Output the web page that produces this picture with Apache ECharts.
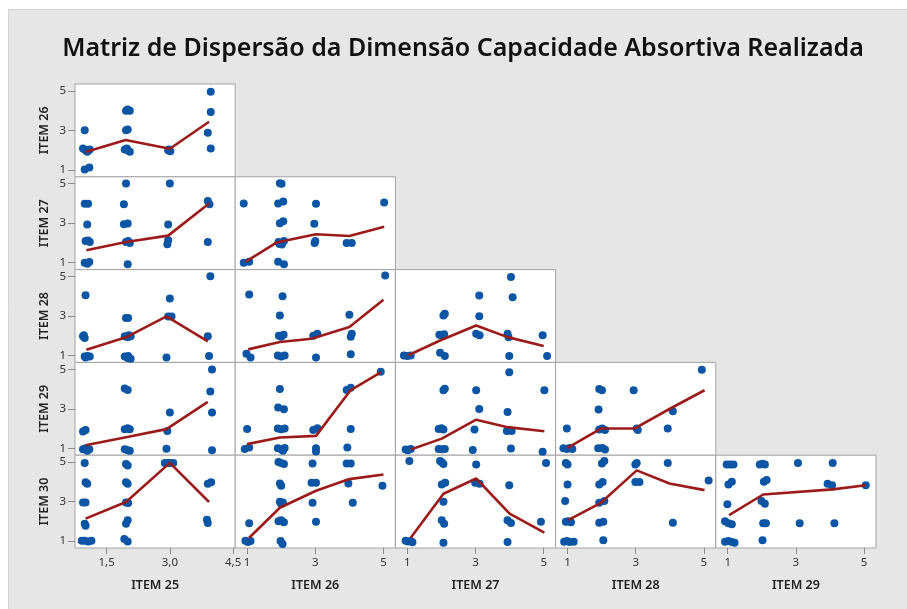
<!DOCTYPE html>
<html>
<head>
<meta charset="utf-8">
<script src="https://cdn.jsdelivr.net/npm/echarts@6/dist/echarts.min.js"></script>
<style>
html,body{margin:0;padding:0;background:#fff;}
#chart{width:907px;height:609px;}
</style>
</head>
<body>
<div id="chart"></div>
<script>
const titleText = 'Matriz de Dispersão da Dimensão Capacidade Absortiva Realizada';
const rowNames = ['ITEM 26', 'ITEM 27', 'ITEM 28', 'ITEM 29', 'ITEM 30'];
const colNames = ['ITEM 25', 'ITEM 26', 'ITEM 27', 'ITEM 28', 'ITEM 29'];
const xTicksItem25 = [1.5, 3.0, 4.5];
const xTicksOther = [1, 3, 5];
const yTicks = [1, 3, 5];

// Row ITEM 26
const pts26_25 = [[0.98,3.01],[0.94,2.08],[1.0,2.0],[1.06,1.97],[1.1,2.03],[1.04,1.92],[0.98,1.02],[1.09,1.12],
  [1.96,4.0],[2.05,4.0],[2.0,4.06],[1.96,3.01],[2.0,3.05],[1.93,2.03],[2.0,2.0],[2.05,1.92],[1.98,2.08],
  [2.96,2.0],[3.01,1.95],[2.98,2.03],[3.97,4.96],[3.97,3.93],[3.9,2.88],[3.97,2.08]];
const fit26_25 = [[1.0,1.9],[1.95,2.51],[3.0,2.07],[3.93,3.44]];

// Row ITEM 27
const pts27_25 = [[0.98,3.99],[1.06,3.99],[1.04,2.93],[1.0,2.1],[1.06,2.13],[1.1,2.05],[0.98,1.0],[1.04,0.95],[1.09,1.04],
  [1.96,5.01],[1.91,3.96],[1.91,2.95],[2.0,2.98],[1.96,2.05],[2.01,2.1],[2.05,2.0],[2.0,0.92],
  [3.0,5.01],[2.96,2.93],[2.96,2.14],[2.94,1.93],[3.9,4.13],[3.94,3.96],[3.9,2.05]];
const fit27_25 = [[1.02,1.63],[1.96,2.05],[2.96,2.37],[3.93,4.0]];
const pts27_26 = [[2.01,5.0],[1.96,5.02],[0.9,4.0],[1.91,4.0],[2.06,4.1],[3.02,3.98],[1.96,3.0],[2.06,3.1],[2.97,2.97],
  [5.02,4.05],[1.92,2.05],[2.0,2.0],[2.08,2.1],[2.02,1.92],[1.95,1.95],[3.0,2.1],[2.98,2.0],[3.92,2.0],[4.07,2.0],
  [0.9,1.0],[1.06,1.05],[1.91,1.05],[2.08,0.92]];
const fit27_26 = [[0.95,1.04],[1.86,2.02],[3.02,2.44],[4.0,2.35],[5.02,2.82]];

// Row ITEM 28
const pts28_25 = [[1.0,4.05],[0.94,1.97],[0.98,1.88],[0.96,2.02],[0.98,0.95],[1.04,0.98],[1.1,0.95],[1.0,0.9],
  [1.96,2.9],[2.01,2.9],[1.93,1.97],[2.0,1.92],[2.07,1.97],[2.03,2.02],[1.93,0.95],[2.0,0.87],[2.07,0.83],[2.01,0.98],
  [3.0,3.88],[2.96,2.98],[3.04,2.98],[2.92,0.9],[3.96,5.01],[3.9,1.97],[3.93,0.98]];
const fit28_25 = [[1.02,1.29],[1.96,1.92],[2.92,2.98],[3.9,1.71]];
const pts28_26 = [[5.05,5.05],[1.06,4.09],[2.04,4.0],[1.96,3.03],[4.0,3.06],[1.93,2.0],[2.0,1.95],[2.07,2.05],
  [2.94,2.0],[3.06,2.1],[4.07,2.1],[4.04,1.95],[0.98,1.09],[1.1,0.9],[1.9,1.0],[2.0,0.95],[2.1,1.0],[3.02,0.9],[4.04,1.06]];
const fit28_26 = [[1.03,1.31],[1.96,1.68],[2.89,1.85],[4.0,2.44],[5.0,3.82]];
const pts28_27 = [[4.04,4.98],[3.11,4.04],[4.09,3.95],[2.06,3.03],[2.1,3.11],[3.11,2.99],[1.94,2.05],[2.02,2.0],[2.08,2.08],
  [3.02,2.1],[3.12,2.02],[3.94,2.1],[3.97,1.93],[4.97,2.02],[0.9,1.0],[1.0,0.98],[1.1,1.0],[1.96,1.14],[2.1,0.97],
  [3.99,0.97],[5.1,0.97]];
const fit28_27 = [[1.03,1.01],[1.96,1.76],[3.02,2.52],[3.94,1.93],[5.0,1.48]];

// Row ITEM 29
const pts29_25 = [[0.94,1.85],[1.0,1.92],[0.94,0.95],[1.0,1.0],[1.09,0.95],[1.04,0.87],
  [1.93,4.03],[2.0,3.95],[1.93,1.96],[2.0,2.02],[2.05,1.96],[1.93,0.95],[2.0,0.9],[2.05,0.87],
  [3.0,2.81],[2.94,1.88],[2.92,0.98],[4.0,4.99],[3.96,3.88],[4.0,2.81],[4.0,0.9]];
const fit29_25 = [[1.0,1.15],[1.96,1.56],[2.92,1.97],[3.9,3.35]];
const pts29_26 = [[4.92,4.88],[3.92,3.95],[4.04,4.07],[1.96,4.0],[1.91,3.06],[2.08,2.98],[1.0,1.98],[1.9,2.0],[2.0,1.96],
  [2.1,2.0],[2.94,1.93],[3.06,2.02],[4.04,1.98],[0.93,0.97],[1.06,1.04],[1.9,1.0],[2.0,0.95],[2.1,1.02],[2.05,0.88],
  [3.02,1.0],[3.02,0.84],[3.94,1.04]];
const fit29_26 = [[1.0,1.21],[1.96,1.55],[3.02,1.63],[4.04,3.95],[4.92,4.85]];
const pts29_27 = [[3.99,4.85],[2.06,3.94],[2.1,4.02],[3.02,3.94],[5.02,3.94],[3.11,2.99],[3.94,2.84],[1.92,1.98],[2.0,2.02],
  [2.06,1.95],[2.97,1.95],[3.92,1.87],[4.06,1.87],[0.95,0.94],[1.02,0.9],[1.1,0.96],[1.92,0.97],[2.02,0.95],[2.1,0.97],
  [2.92,0.91],[4.04,0.99],[4.97,0.82]];
const fit29_27 = [[1.1,0.94],[2.01,1.49],[3.02,2.45],[3.94,2.07],[5.02,1.86]];
const pts29_28 = [[4.94,4.98],[1.93,4.0],[2.01,3.94],[2.94,3.94],[1.91,2.96],[4.09,2.88],[0.98,2.0],[1.93,1.95],[2.02,2.0],
  [2.1,1.93],[3.03,2.0],[3.06,1.92],[3.94,2.0],[0.88,1.0],[0.98,0.96],[1.06,1.02],[1.14,0.97],[1.9,1.0],[2.02,1.02],[2.1,0.94]];
const fit29_28 = [[1.0,1.02],[1.98,2.0],[2.96,2.0],[3.99,2.99],[5.02,3.94]];

// Row ITEM 30
const pts30_25 = [[0.98,4.96],[1.0,3.98],[1.04,3.9],[0.94,2.96],[1.0,2.96],[0.98,1.88],[1.0,1.78],[0.91,1.02],[0.98,1.02],
  [1.06,0.98],[1.14,1.02],[1.96,4.91],[2.0,4.83],[1.96,3.98],[2.0,3.91],[1.96,2.96],[2.01,2.93],[2.0,2.05],[1.96,1.88],
  [1.92,1.1],[2.0,0.98],[2.88,4.96],[2.96,4.96],[3.01,4.96],[3.08,4.96],[3.9,3.9],[3.98,3.98],[3.88,2.08],[3.9,1.92]];
const fit30_25 = [[1.0,2.14],[1.96,2.98],[3.0,4.96],[3.93,2.98]];
const pts30_26 = [[1.92,5.0],[2.0,4.95],[2.08,4.9],[2.92,4.93],[3.92,4.93],[4.04,4.93],[1.96,3.92],[2.0,3.8],[2.89,3.95],
  [3.02,3.95],[3.97,3.92],[4.97,3.8],[1.96,2.99],[2.0,2.88],[2.05,2.95],[2.92,2.94],[4.1,2.94],[1.06,1.9],[1.92,2.0],
  [2.0,2.05],[2.08,1.95],[3.02,1.98],[0.95,1.02],[1.02,0.95],[1.1,1.0],[1.98,1.0],[2.04,0.85]];
const fit30_26 = [[1.06,1.17],[1.96,2.69],[3.02,3.55],[4.0,4.14],[5.0,4.37]];
const pts30_27 = [[1.06,5.05],[1.96,5.05],[2.06,4.91],[2.02,4.98],[3.02,4.88],[5.07,4.96],[2.01,3.87],[2.11,3.95],[2.99,3.95],
  [3.12,3.9],[3.99,3.83],[2.06,2.99],[2.01,2.05],[2.08,1.88],[3.94,2.05],[4.04,1.92],[4.92,1.98],[0.95,1.02],[1.02,0.98],
  [1.1,1.0],[1.15,0.94],[2.06,0.92],[3.94,0.96]];
const fit30_27 = [[1.1,1.17],[2.06,3.4],[3.02,4.17],[4.0,2.39],[5.02,1.43]];
const pts30_28 = [[0.95,4.96],[1.0,4.88],[2.01,4.93],[2.08,5.05],[2.99,4.88],[3.03,4.96],[3.94,4.96],[1.0,3.87],[1.93,3.87],
  [2.03,3.99],[2.99,3.99],[3.11,3.99],[5.14,4.07],[0.93,3.03],[1.93,2.94],[2.08,3.03],[0.95,1.98],[1.02,2.0],[1.1,1.96],
  [1.93,1.93],[2.05,1.98],[4.09,1.93],[0.9,0.97],[0.98,1.0],[1.06,0.95],[1.18,0.97],[2.05,1.04]];
const fit30_28 = [[1.03,2.07],[1.98,2.94],[3.03,4.58],[3.99,3.92],[5.02,3.58]];
const pts30_29 = [[0.97,4.88],[1.07,4.88],[1.17,4.88],[1.94,4.88],[2.02,4.92],[2.09,4.88],[3.06,4.96],[4.08,4.96],
  [1.02,3.87],[1.12,4.0],[2.06,4.0],[2.14,4.09],[3.93,3.9],[4.06,3.83],[5.05,3.83],[0.99,2.86],[1.99,3.03],[2.09,2.89],
  [0.92,2.0],[1.02,1.9],[1.12,1.85],[2.04,1.9],[2.12,1.9],[3.11,1.9],[4.13,1.9],[0.92,0.97],[1.02,1.0],[1.12,0.95],
  [1.2,0.92],[2.02,1.04]];
const fit30_29 = [[1.04,2.32],[2.04,3.36],[4.08,3.62],[5.05,3.83]];

const pointRows = [
  [pts26_25],
  [pts27_25, pts27_26],
  [pts28_25, pts28_26, pts28_27],
  [pts29_25, pts29_26, pts29_27, pts29_28],
  [pts30_25, pts30_26, pts30_27, pts30_28, pts30_29]
];
const fitRows = [
  [fit26_25],
  [fit27_25, fit27_26],
  [fit28_25, fit28_26, fit28_27],
  [fit29_25, fit29_26, fit29_27, fit29_28],
  [fit30_25, fit30_26, fit30_27, fit30_28, fit30_29]
];

const FONT = '"Noto Sans", "Open Sans", sans-serif';
const colLeft = c => 75 + c * 160.2;
const rowTop = r => 84 + r * 92.8;
const W = 160.2, H = 92.8;

const grids = [], xAxes = [], yAxes = [], series = [];
let idx = 0;
for (let r = 0; r < 5; r++) {
  for (let c = 0; c <= r; c++) {
    grids.push({
      left: colLeft(c), top: rowTop(r), width: W, height: H,
      show: true, backgroundColor: '#ffffff', borderColor: '#a3a3a3', borderWidth: 1
    });
    const bottomRow = (r === 4);
    const firstCol = (c === 0);
    xAxes.push({
      gridIndex: idx, type: 'value',
      min: c === 0 ? 0.75 : 0.65, max: c === 0 ? 4.55 : 5.35,
      splitLine: { show: false }, axisLine: { show: false },
      axisTick: { show: bottomRow, customValues: c === 0 ? xTicksItem25 : xTicksOther, length: 6, lineStyle: { color: '#8a8a8a' } },
      axisLabel: {
        show: bottomRow, customValues: c === 0 ? xTicksItem25 : xTicksOther,
        margin: 9, fontSize: 11.5, color: '#333', fontFamily: FONT,
        formatter: v => c === 0 ? v.toFixed(1).replace('.', ',') : String(v)
      },
      name: bottomRow ? colNames[c] : '', nameLocation: 'middle', nameGap: 31,
      nameTextStyle: { fontSize: 12.5, fontWeight: 600, color: '#222', fontFamily: FONT }
    });
    yAxes.push({
      gridIndex: idx, type: 'value', min: 0.65, max: 5.35,
      splitLine: { show: false }, axisLine: { show: false },
      axisTick: { show: firstCol, customValues: yTicks, length: 7, lineStyle: { color: '#8a8a8a' } },
      axisLabel: { show: firstCol, customValues: yTicks, margin: 9, fontSize: 11.5, color: '#333', fontFamily: FONT },
      name: firstCol ? rowNames[r] : '', nameLocation: 'middle', nameGap: 24, nameRotate: 90,
      nameTextStyle: { fontSize: 12.5, fontWeight: 600, color: '#222', fontFamily: FONT }
    });
    series.push({
      type: 'scatter', xAxisIndex: idx, yAxisIndex: idx, data: pointRows[r][c],
      symbolSize: 8, itemStyle: { color: '#0b55a4', opacity: 1 }, silent: true, z: 2
    });
    series.push({
      type: 'line', xAxisIndex: idx, yAxisIndex: idx, data: fitRows[r][c],
      symbol: 'none', lineStyle: { color: '#9b1a1a', width: 2.6 }, silent: true, z: 3
    });
    idx++;
  }
}

const chart = echarts.init(document.getElementById('chart'), null, { renderer: 'canvas' });
chart.setOption({
  animation: false,
  backgroundColor: '#ffffff',
  graphic: [
    { type: 'rect', z: -10, shape: { x: 8.5, y: 9.5, width: 910, height: 610 },
      style: { fill: '#e6e6e6', stroke: '#d2d2d2', lineWidth: 1 } },
    { type: 'text', z: 10, x: 463, y: 49,
      style: { text: titleText, align: 'center', verticalAlign: 'middle',
        font: '600 25px "Noto Sans", "Open Sans", sans-serif', fill: '#111' } }
  ],
  grid: grids, xAxis: xAxes, yAxis: yAxes, series: series
});
</script>
</body>
</html>
